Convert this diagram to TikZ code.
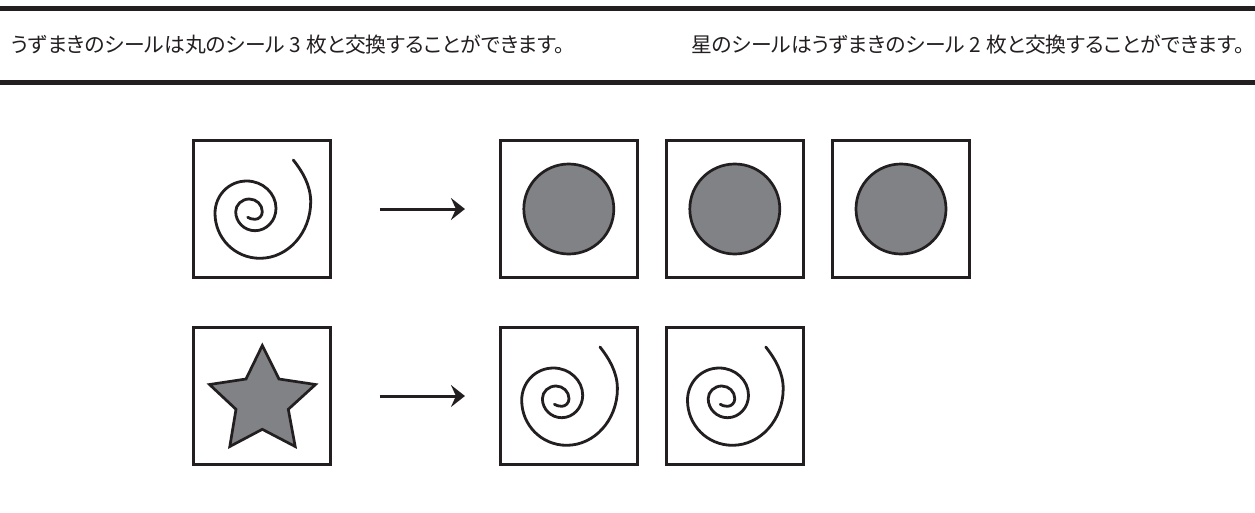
\documentclass[tikz,border=0pt]{standalone}
\usepackage{fontspec}
\usetikzlibrary{arrows.meta}
\newfontfamily\jpfont[RawFeature={+palt}]{Noto Sans CJK JP}
\definecolor{ink}{HTML}{231F20}
\definecolor{fillgrey}{HTML}{808285}
\tikzset{
  x=1pt,y=-1pt,
  band/.style={fill=ink,draw=none},
  card/.style={draw=ink,line width=2.7pt,minimum width=137pt,minimum height=137pt,inner sep=0pt,outer sep=1.35pt},
  shapeline/.style={draw=ink,line width=2.7pt,line join=miter},
  spiralline/.style={draw=ink,line width=2.8pt,line cap=round},
  give/.style={draw=ink,line width=3pt,-{Stealth[length=14pt,width=22pt,inset=5pt]}},
  caption/.style={font=\jpfont\fontsize{20.8pt}{24pt}\selectfont,text=ink,inner sep=0pt},
}
\newcommand{\spiralat}[2]{\draw[spiralline,shift={(#1,#2)}] (31.3,-49)
 .. controls (40,-38) and (48.7,-24) .. (48.7,-7.3)
 .. controls (48.7,23.8) and (25.9,49.3) .. (-2,49.3)
 .. controls (-27.3,49.3) and (-47,29) .. (-47,4.3)
 .. controls (-47,-13.5) and (-33.3,-28) .. (-15.3,-28)
 .. controls (0.8,-28) and (14,-15.7) .. (14,-0.7)
 .. controls (14,11.6) and (4.6,21.7) .. (-7,21.7)
 .. controls (-17.6,21.7) and (-26.3,13.2) .. (-26.3,2.7)
 .. controls (-26.3,-4.3) and (-20.2,-10) .. (-12.7,-10)
 .. controls (-5.5,-10) and (0.3,-4.3) .. (0.3,2.7)
 .. controls (0.3,6.9) and (-3,10.3) .. (-7,10.3)
 .. controls (-10,10.3) and (-12.5,9.5) .. (-14.3,8.3);}
\begin{document}
\begin{tikzpicture}
\useasboundingbox (0,0) rectangle (1255,512);
\fill[white] (0,0) rectangle (1255,512);
\fill[band] (0,5.5) rectangle (1255,11);
\fill[band] (0,80) rectangle (1255,85);
\node[caption,anchor=west] (capa) at (11,45) {うずまきのシールは丸のシール 3 枚と交換することができます。};
\node[caption,anchor=west] (capb) at (691,45) {星のシールはうずまきのシール 2 枚と交換することができます。};
\node[card] (a0) at (262,209) {};
\node[card] (a1) at (568.8,209) {};
\node[card] (a2) at (734.8,209) {};
\node[card] (a3) at (901,209) {};
\node[card] (b0) at (262,396) {};
\node[card] (b1) at (568.8,396) {};
\node[card] (b2) at (734.8,396) {};
\spiralat{262}{209}
\spiralat{568.7}{396}
\spiralat{734.5}{396}
\foreach \n in {a1,a2,a3} \draw[shapeline,fill=fillgrey] (\n.center) circle (45);
\draw[shapeline,fill=fillgrey] (262.3,345.5) -- (279,379) -- (315.5,384.5) -- (288.3,409.3) -- (295.2,446.5) -- (262.3,429.3) -- (229.8,446.5) -- (236,409.3) -- (209.5,384.5) -- (246,379) -- cycle;
\draw[give,shorten <=48pt,shorten >=34pt] (a0) -- (a1);
\draw[give,shorten <=48pt,shorten >=34pt] (b0) -- (b1);
\end{tikzpicture}
\end{document}
